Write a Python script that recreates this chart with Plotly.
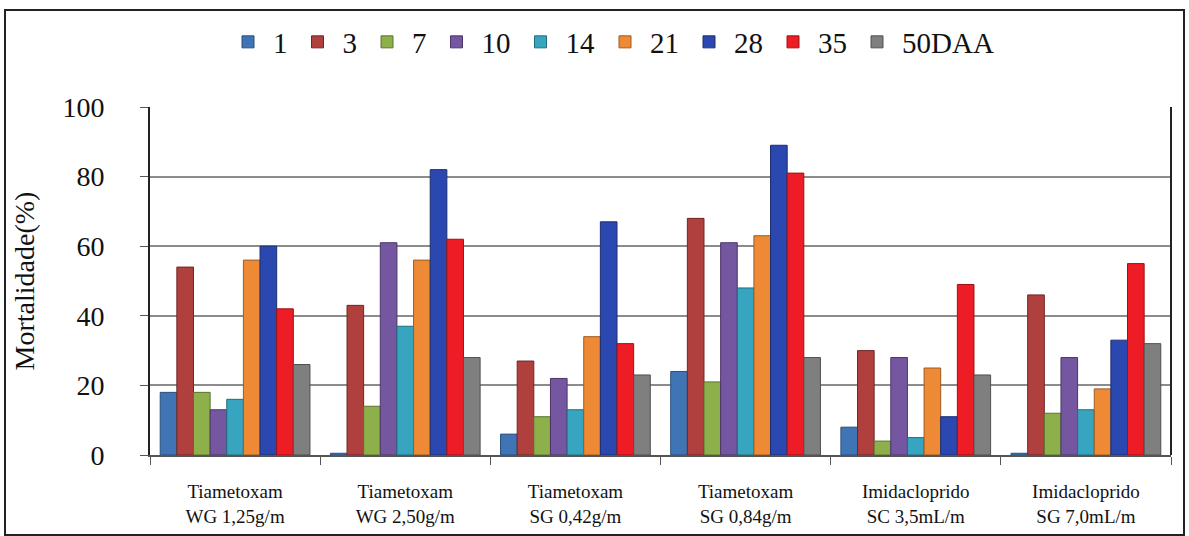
import plotly.graph_objects as go

categories = ["Tiametoxam<br>WG 1,25g/m", "Tiametoxam<br>WG 2,50g/m", "Tiametoxam<br>SG 0,42g/m",
              "Tiametoxam<br>SG 0,84g/m", "Imidacloprido<br>SC 3,5mL/m", "Imidacloprido<br>SG 7,0mL/m"]
series_names = ["1", "3", "7", "10", "14", "21", "28", "35", "50DAA"]
d1 = [18, 0.5, 6, 24, 8, 0.5]
d3 = [54, 43, 27, 68, 30, 46]
d7 = [18, 14, 11, 21, 4, 12]
d10 = [13, 61, 22, 61, 28, 28]
d14 = [16, 37, 13, 48, 5, 13]
d21 = [56, 56, 34, 63, 25, 19]
d28 = [60, 82, 67, 89, 11, 33]
d35 = [42, 62, 32, 81, 49, 55]
d50 = [26, 28, 23, 28, 23, 32]
series_values = [d1, d3, d7, d10, d14, d21, d28, d35, d50]
colors = ["#3F75B5", "#B0403E", "#8DB04A", "#7457A0", "#38A5C0", "#EE8A35", "#2A48B0", "#EE1C24", "#7F7F7F"]
line_colors = ["#2A4F7A", "#6E2726", "#5A7230", "#4A3668", "#236A7C", "#9C5A22", "#1A2E70", "#9A1216", "#505050"]

fig = go.Figure()
for name, vals, c, lc in zip(series_names, series_values, colors, line_colors):
    fig.add_trace(go.Bar(x=categories, y=vals, name=name,
                         marker=dict(color=c, line=dict(color=lc, width=1))))

serif = "Liberation Serif"
L, R, T, B = 150, 18, 107, 81
W, H = 1189, 536
pw, ph = W - L - R, H - T - B
fig.update_layout(
    width=W, height=H,
    barmode="group", bargap=0.12, bargroupgap=0,
    plot_bgcolor="white", paper_bgcolor="white",
    margin=dict(l=L, r=R, t=T, b=B, autoexpand=False),
    font=dict(family=serif, color="#111111"),
    legend=dict(orientation="h", x=611 / W, xref="container", xanchor="center",
                y=1 - 42 / H, yref="container", yanchor="middle",
                font=dict(family=serif, size=29), itemwidth=40, traceorder="normal"),
    showlegend=True,
)
fig.update_yaxes(range=[0, 100], tickvals=[0, 20, 40, 60, 80, 100],
                 showgrid=True, gridcolor="#8C8C8C", gridwidth=2,
                 showline=True, linecolor="#222222", linewidth=2,
                 ticks="outside", ticklen=8, tickcolor="#555555",
                 ticklabelstandoff=30,
                 tickfont=dict(family=serif, size=28),
                 title=dict(text="Mortalidade(%)", font=dict(family=serif, size=28), standoff=20),
                 zeroline=False, mirror=False)
fig.update_xaxes(showline=True, linecolor="#555555", linewidth=2,
                 ticks="outside", ticklen=8, tickcolor="#555555",
                 tickson="boundaries", ticklabelstandoff=18,
                 tickfont=dict(family=serif, size=19))
fig.add_shape(type="line", xref="paper", yref="paper", x0=1.0, x1=1.0, y0=0, y1=1,
              line=dict(color="#222222", width=2))
fig.add_shape(type="rect", xref="paper", yref="paper",
              x0=(5 - L) / pw, x1=(1184 - L) / pw,
              y0=(H - B - 535) / ph, y1=(H - B - 10) / ph,
              line=dict(color="#222222", width=2), layer="below")
fig.write_html("out.html")
